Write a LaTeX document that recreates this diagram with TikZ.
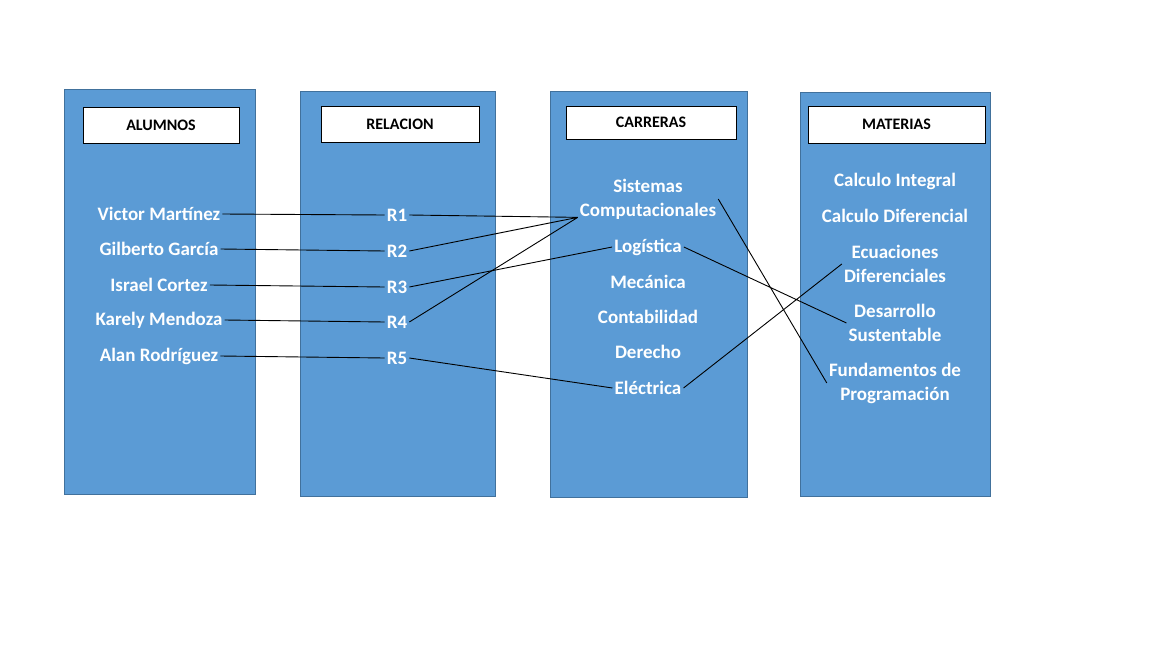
\documentclass[tikz,border=0pt]{standalone}
\usepackage{fontspec}
\setmainfont{Carlito}
\definecolor{colfill}{HTML}{5B9BD5}
\definecolor{colline}{HTML}{41719C}
\begin{document}
\begin{tikzpicture}[x=1pt,y=-1pt,
	col/.style={fill=colfill,draw=colline,line width=1pt},
	head/.style={fill=white,draw=black,line width=0.9pt,font=\bfseries\fontsize{16}{18}\selectfont},
	item/.style={text=white,font=\bfseries\fontsize{19}{24}\selectfont,inner sep=2pt,align=center},
	link/.style={line width=0.9pt}]
	\useasboundingbox (0,0) rectangle (1152,648);
	% columnas
	\draw[col] (64,89) rectangle (255,494);
	\draw[col] (300,91) rectangle (495,496);
	\draw[col] (550,91) rectangle (747,497);
	\draw[col] (800,92) rectangle (990,496);
	\foreach \n/\x/\y/\w/\h/\t in {hA/161/125/156/36/ALUMNOS,hR/400/124/158/36/RELACION,hC/651/122.5/170/33/CARRERAS,hM/896.5/124.5/177/37/MATERIAS}
		\node[head,minimum width=\w pt,minimum height=\h pt] (\n) at (\x,\y) {\t};
	% alumnos y relaciones
	\foreach \i/\y/\t in {1/214/Victor Martínez,2/249/Gilberto García,3/285/Israel Cortez,4/320/Karely Mendoza,5/356/Alan Rodríguez}
		\node[item] (a\i) at (159,\y) {\t};
	\foreach \i/\y in {1/215,2/251,3/287,4/322,5/358}
		\node[item] (r\i) at (397,\y) {R\i};
	% carreras
	\node[item] (sc) at (648,199) {Sistemas\\Computacionales};
	\foreach \n/\y/\t in {lo/247/Logística,me/282/Mecánica,co/317/Contabilidad,de/352/Derecho,el/388/Eléctrica}
		\node[item] (\n) at (648,\y) {\t};
	% materias
	\node[item] (ci) at (895,181) {Calculo Integral};
	\node[item] (cd) at (895,216) {Calculo Diferencial};
	\node[item] (ec) at (895,264) {Ecuaciones\\Diferenciales};
	\node[item] (ds) at (895,323) {Desarrollo\\Sustentable};
	\node[item] (fp) at (895,383) {Fundamentos de\\Programación};
	% conexiones
	\foreach \i in {1,...,5}\draw[link] (a\i.east)--(r\i.west);
	\coordinate (scx) at ([yshift=4pt]sc.south west);
	\draw[link] (r1.east)--(scx) (r2.east)--(scx) (r4.east)--(scx);
	\draw[link] (r3.east)--(lo.west) (r5.east)--(el.west);
	\draw[link] (sc.east)--(fp.west) (lo.east)--(ds.west) (el.east)--(ec.west);
\end{tikzpicture}
\end{document}
